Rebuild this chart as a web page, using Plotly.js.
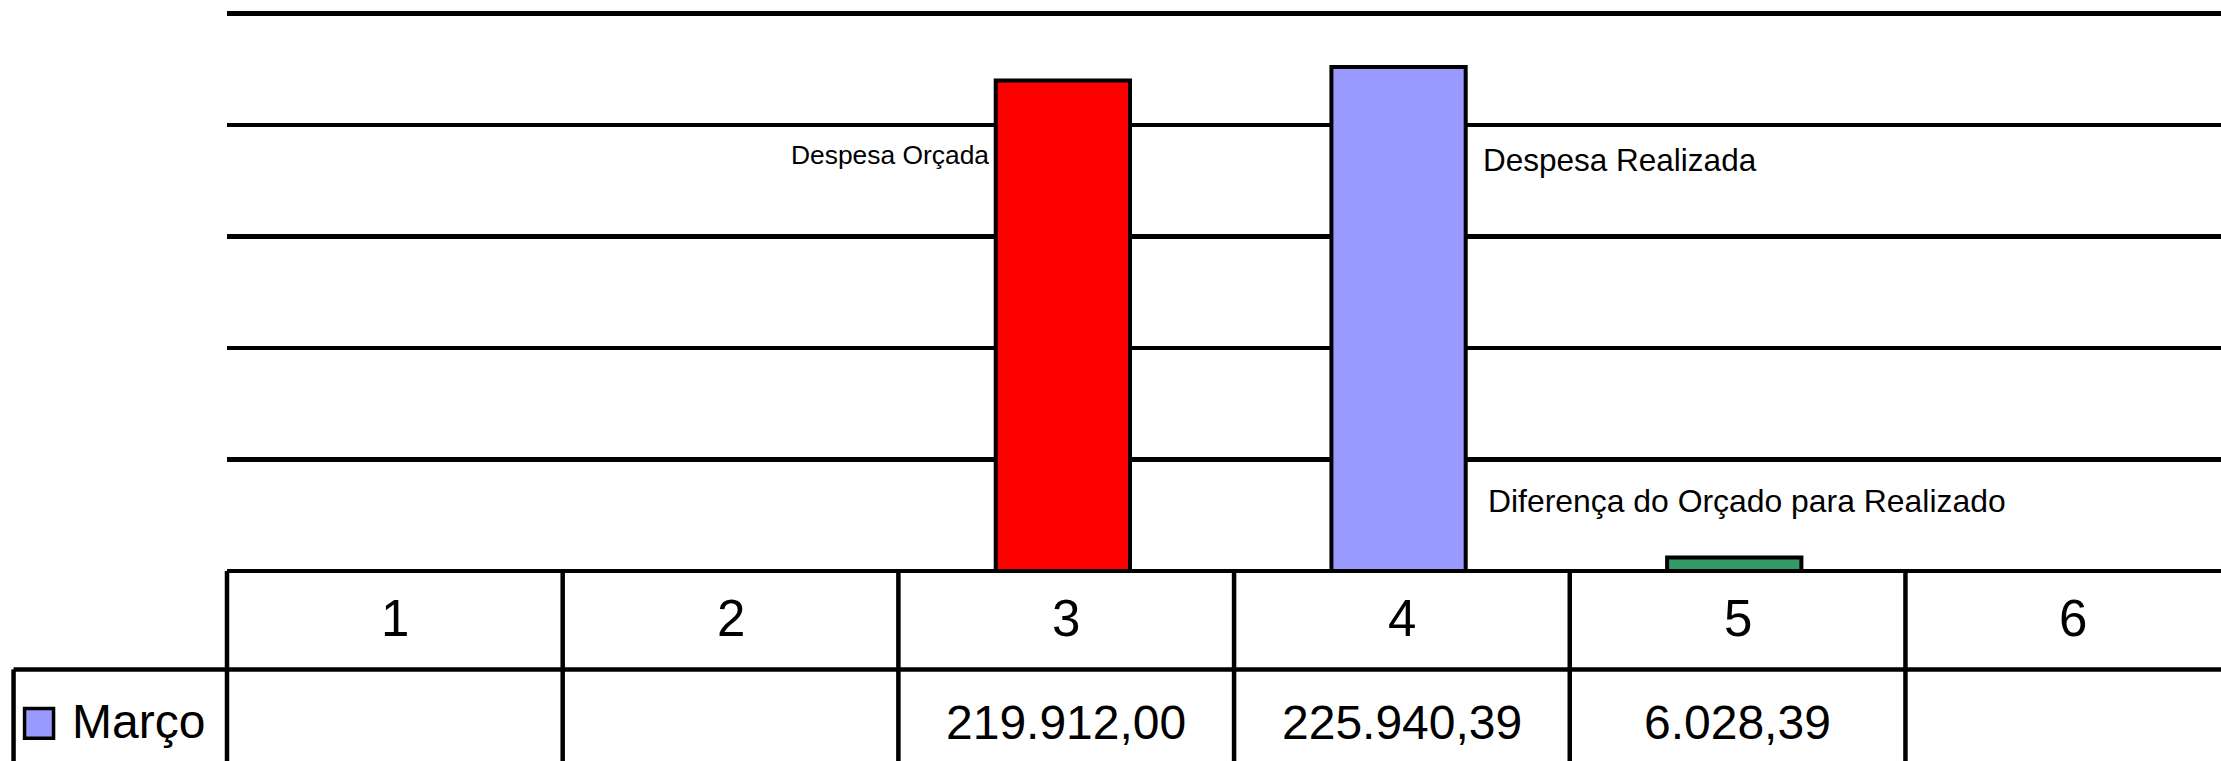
<!DOCTYPE html>
<html>
<head>
<meta charset="utf-8">
<script src="https://cdn.plot.ly/plotly-3.0.1.min.js"></script>
<style>
  html, body { margin: 0; padding: 0; overflow: hidden; background: #ffffff; }
  #chart { width: 2221px; height: 761px; }
</style>
</head>
<body>
<div id="chart"></div>
<script>
// ---- data ----
var categories = ['1', '2', '3', '4', '5', '6'];
var seriesName = 'Março';
var values = [null, null, 219912.00, 225940.39, 6028.39, null];
var barColors = ['#9999FF', '#9999FF', '#FF0000', '#9999FF', '#339966', '#9999FF'];
var legendColor = '#9999FF';
var labelTexts = ['Despesa Orçada', 'Despesa Realizada', 'Diferença do Orçado para Realizado'];
var yTickStep = 50000;
var yTickMax = 250000;

// ---- helpers ----
function fmtBR(v) {
  if (v === null || v === undefined) return '';
  var parts = v.toFixed(2).split('.');
  var intPart = parts[0].replace(/\B(?=(\d{3})+(?!\d))/g, '.');
  return intPart + ',' + parts[1];
}

var FONT = 'Liberation Sans, Arial, Helvetica, sans-serif';
var xPos = categories.map(function (c, i) { return i + 1; });

var W = 2221, H = 761;
var yMax = 252000;
var mL = 226.5, mT = 9, mB = 189.5;
var plotW = W - mL, plotH = H - mT - mB;
function py(pix) { return (H - mB - pix) / plotH; }
function px(pix) { return (pix - mL) / plotW; }

var trace = {
  type: 'bar',
  name: seriesName,
  x: xPos,
  y: values,
  width: 0.4,
  offset: -0.21,
  marker: { color: barColors, line: { color: '#000000', width: 4 } },
  hoverinfo: 'none',
  showlegend: false
};

var shapes = [];
var LW = 4.5;
// top gridline (at the last tick, which Plotly omits at the plot edge)
shapes.push({ type: 'line', xref: 'paper', yref: 'y', x0: 0, x1: 1, y0: yTickMax, y1: yTickMax,
  line: { color: '#000', width: LW }, layer: 'below' });
// row separator between header row and value row (spans legend cell too)
shapes.push({ type: 'line', xref: 'paper', yref: 'paper', x0: px(13), x1: 1.01, y0: py(670), y1: py(670),
  line: { color: '#000', width: LW } });
// left border of the table (plot edge)
shapes.push({ type: 'line', xref: 'paper', yref: 'paper', x0: 0, x1: 0, y0: 0, y1: py(770),
  line: { color: '#000', width: LW } });
// column boundaries
for (var k = 1; k < categories.length; k++) {
  shapes.push({ type: 'line', xref: 'x', yref: 'paper', x0: xPos[k] - 0.5, x1: xPos[k] - 0.5, y0: 0, y1: py(770),
    line: { color: '#000', width: LW } });
}
// legend cell left border
shapes.push({ type: 'line', xref: 'paper', yref: 'paper', x0: px(13), x1: px(13), y0: py(670), y1: py(770),
  line: { color: '#000', width: LW } });
// legend swatch
shapes.push({ type: 'rect', xref: 'paper', yref: 'paper', x0: px(24), x1: px(53), y0: py(709), y1: py(739),
  fillcolor: legendColor, line: { color: '#000', width: 3.5 } });

var annotations = [];
categories.forEach(function (c, i) {
  annotations.push({ xref: 'x', yref: 'paper', x: xPos[i], y: py(618.7), text: c, showarrow: false,
    xanchor: 'center', yanchor: 'middle', font: { family: FONT, size: 51, color: '#000' } });
});
values.forEach(function (v, i) {
  if (v === null) return;
  annotations.push({ xref: 'x', yref: 'paper', x: xPos[i], y: py(722.7), text: fmtBR(v), showarrow: false,
    xanchor: 'center', yanchor: 'middle', font: { family: FONT, size: 48, color: '#000' } });
});
annotations.push({ xref: 'paper', yref: 'paper', x: px(69), y: py(722), text: seriesName, showarrow: false,
  xanchor: 'left', yanchor: 'middle', font: { family: FONT, size: 48, color: '#000' } });
annotations.push({ xref: 'x', yref: 'paper', x: xPos[2] - 0.2, y: py(155.2), text: labelTexts[0], showarrow: false,
  xanchor: 'right', yanchor: 'middle', xshift: -8, font: { family: FONT, size: 26.4, color: '#000' } });
annotations.push({ xref: 'x', yref: 'paper', x: xPos[3] + 0.2, y: py(160.1), text: labelTexts[1], showarrow: false,
  xanchor: 'left', yanchor: 'middle', xshift: 12, font: { family: FONT, size: 31.5, color: '#000' } });
annotations.push({ xref: 'x', yref: 'paper', x: xPos[3] + 0.2, y: py(501.8), text: labelTexts[2], showarrow: false,
  xanchor: 'left', yanchor: 'middle', xshift: 17, font: { family: FONT, size: 31.9, color: '#000' } });

var layout = {
  width: W, height: H,
  margin: { l: mL, r: 0, t: mT, b: mB, pad: 0 },
  paper_bgcolor: '#ffffff', plot_bgcolor: '#ffffff',
  showlegend: false,
  bargap: 0.6,
  hovermode: false,
  xaxis: { range: [0.5, 6.44], showgrid: false, zeroline: false, showline: false,
    showticklabels: false, ticks: '', fixedrange: true },
  yaxis: { range: [0, yMax], dtick: yTickStep, tick0: 0, showgrid: true, gridcolor: '#000000', gridwidth: LW,
    zeroline: true, zerolinecolor: '#000000', zerolinewidth: LW, showline: false,
    showticklabels: false, ticks: '', fixedrange: true },
  shapes: shapes,
  annotations: annotations,
  font: { family: FONT, color: '#000' }
};

Plotly.newPlot('chart', [trace], layout, { displayModeBar: false, staticPlot: true });
</script>
</body>
</html>
